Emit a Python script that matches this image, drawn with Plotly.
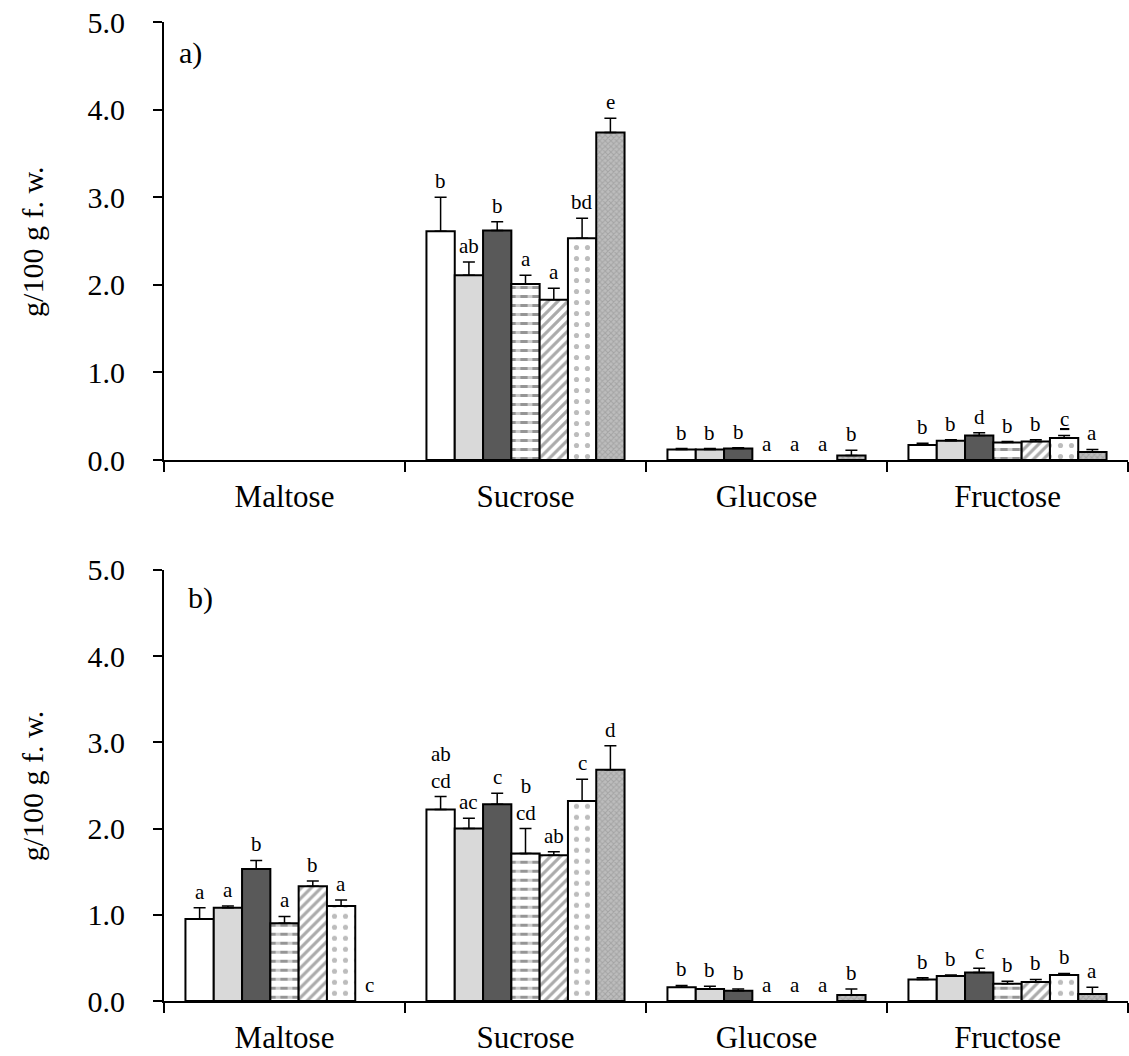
import plotly.graph_objects as go

# Sugar content (g/100 g fresh weight) for seven treatments, two experiments
sugars = ["Maltose", "Sucrose", "Glucose", "Fructose"]
treatments = ["T1", "T2", "T3", "T4", "T5", "T6", "T7"]

# panel a) means, error (SD) and significance letters, one list per treatment
a_means = [
    [0.00, 2.61, 0.12, 0.17],
    [0.00, 2.11, 0.12, 0.22],
    [0.00, 2.62, 0.13, 0.28],
    [0.00, 2.01, 0.00, 0.20],
    [0.00, 1.83, 0.00, 0.21],
    [0.00, 2.53, 0.00, 0.25],
    [0.00, 3.74, 0.05, 0.09],
]
a_errs = [
    [0.00, 0.39, 0.01, 0.02],
    [0.00, 0.15, 0.01, 0.01],
    [0.00, 0.10, 0.01, 0.03],
    [0.00, 0.10, 0.00, 0.01],
    [0.00, 0.13, 0.00, 0.02],
    [0.00, 0.23, 0.00, 0.03],
    [0.00, 0.16, 0.06, 0.03],
]
a_letters = [
    ["", "b", "b", "b"],
    ["", "ab", "b", "b"],
    ["", "b", "b", "d"],
    ["", "a", "a", "b"],
    ["", "a", "a", "b"],
    ["", "bd", "a", "<u>c</u>"],
    ["", "e", "b", "a"],
]

# panel b)
b_means = [
    [0.95, 2.22, 0.16, 0.25],
    [1.08, 2.00, 0.14, 0.29],
    [1.53, 2.28, 0.12, 0.33],
    [0.90, 1.71, 0.00, 0.20],
    [1.33, 1.69, 0.00, 0.22],
    [1.10, 2.32, 0.00, 0.30],
    [0.00, 2.68, 0.07, 0.08],
]
b_errs = [
    [0.13, 0.15, 0.02, 0.02],
    [0.02, 0.12, 0.03, 0.01],
    [0.10, 0.13, 0.02, 0.05],
    [0.08, 0.29, 0.00, 0.03],
    [0.06, 0.04, 0.00, 0.03],
    [0.07, 0.25, 0.00, 0.02],
    [0.00, 0.28, 0.07, 0.08],
]
b_letters = [
    ["a", "ab<br>cd", "b", "b"],
    ["a", "ac", "b", "b"],
    ["b", "c", "b", "c"],
    ["a", "b<br>cd", "a", "b"],
    ["b", "ab", "a", "b"],
    ["a", "c", "a", "b"],
    ["c", "d", "b", "a"],
]

y_ticks = [0, 1, 2, 3, 4, 5]
y_ticktext = ["0.0", "1.0", "2.0", "3.0", "4.0", "5.0"]

FONT = "Liberation Serif"
BARGAP = 0.178
NSER = len(treatments)
BW = (1 - BARGAP) / NSER

# fill style of each treatment
fills = [
    dict(color="white"),
    dict(color="#d9d9d9"),
    dict(color="#595959"),
    dict(color="white", pattern=dict(shape="-", fgcolor="#2b2b2b", bgcolor="white",
                                     size=9, solidity=0.34)),
    dict(color="white", pattern=dict(shape="/", fgcolor="#585858", bgcolor="white",
                                     size=7, solidity=0.45)),
    dict(color="white", pattern=dict(shape=".", fgcolor="#7a7a7a", bgcolor="white",
                                     size=11, solidity=0.17)),
    dict(color="#adadad", pattern=dict(shape="x", fgcolor="#8a8a8a", bgcolor="#bdbdbd",
                                       size=4, solidity=0.45)),
]
# white breaks that turn the horizontal lines of treatment 4 into dashes
dash_breaks = dict(color="rgba(0,0,0,0)",
                   pattern=dict(shape="|", fgcolor="white", bgcolor="rgba(0,0,0,0)",
                                size=12, solidity=0.4))


def nonzero(vals):
    return [v if v > 0 else None for v in vals]


fig = go.Figure()
annotations = []

panels = [
    ("x", "y", a_means, a_errs, a_letters),
    ("x2", "y2", b_means, b_errs, b_letters),
]

for xa, ya, means, errs, letters in panels:
    for j in range(NSER):
        fig.add_trace(go.Bar(
            x=sugars, y=nonzero(means[j]), name=treatments[j], xaxis=xa, yaxis=ya,
            offsetgroup=str(j), showlegend=False, hoverinfo="skip",
            marker=dict(**fills[j], line=dict(color="black", width=2 if j != 3 else 0)),
            error_y=dict(type="data", array=errs[j], arrayminus=[0] * len(sugars),
                         symmetric=False, color="black", thickness=1.5, width=6),
        ))
        if j == 3:
            fig.add_trace(go.Bar(
                x=sugars, y=nonzero(means[j]), name=treatments[j], xaxis=xa, yaxis=ya,
                offsetgroup=str(j), showlegend=False, hoverinfo="skip",
                marker=dict(**dash_breaks, line=dict(color="black", width=2)),
            ))
        for i in range(len(sugars)):
            if not letters[j][i]:
                continue
            annotations.append(dict(
                x=i + (j - (NSER - 1) / 2) * BW, y=means[j][i] + errs[j][i],
                xref=xa, yref=ya, text=letters[j][i], showarrow=False,
                yanchor="bottom", xanchor="center", yshift=2,
                font=dict(family=FONT, size=21, color="black"),
            ))

# panel tags and y-axis titles
annotations += [
    dict(x=0.0135, y=0.9687, xref="paper", yref="paper", text="a)", showarrow=False,
         xanchor="left", yanchor="middle", font=dict(family=FONT, size=30, color="black")),
    dict(x=0.0228, y=0.4117, xref="paper", yref="paper", text="b)", showarrow=False,
         xanchor="left", yanchor="middle", font=dict(family=FONT, size=30, color="black")),
    dict(x=-0.137, y=0.7763, xref="paper", yref="paper", text="g/100 g f. w.",
         showarrow=False, textangle=-90, xanchor="center", yanchor="middle",
         font=dict(family=FONT, size=30, color="black")),
    dict(x=-0.137, y=0.2203, xref="paper", yref="paper", text="g/100 g f. w.",
         showarrow=False, textangle=-90, xanchor="center", yanchor="middle",
         font=dict(family=FONT, size=30, color="black")),
]

xaxis_style = dict(
    type="category", categoryorder="array", categoryarray=sugars, range=[-0.5, 3.5],
    showline=True, linecolor="black", linewidth=2, ticks="outside", tickson="boundaries",
    ticklen=10, tickwidth=1.5, tickcolor="black", showgrid=False, zeroline=False,
    tickfont=dict(family=FONT, size=31, color="black"), ticklabelstandoff=8,
)
yaxis_style = dict(
    range=[0, 5], tickvals=y_ticks, ticktext=y_ticktext,
    showline=True, linecolor="black", linewidth=2, ticks="outside",
    ticklen=9, tickwidth=1.5, tickcolor="black", showgrid=False, zeroline=False,
    tickfont=dict(family=FONT, size=30, color="black"), ticklabelstandoff=22,
)

fig.update_layout(
    width=1129, height=1056,
    margin=dict(l=164, r=1, t=22, b=52),
    paper_bgcolor="white", plot_bgcolor="white",
    barmode="group", bargap=BARGAP, bargroupgap=0,
    xaxis=dict(**xaxis_style, domain=[0, 1], anchor="y"),
    yaxis=dict(**yaxis_style, domain=[0.5526, 1], anchor="x"),
    xaxis2=dict(**xaxis_style, domain=[0, 1], anchor="y2"),
    yaxis2=dict(**yaxis_style, domain=[0, 0.4405], anchor="x2"),
    annotations=annotations,
    font=dict(family=FONT, color="black"),
)

fig.write_html("out.html")
